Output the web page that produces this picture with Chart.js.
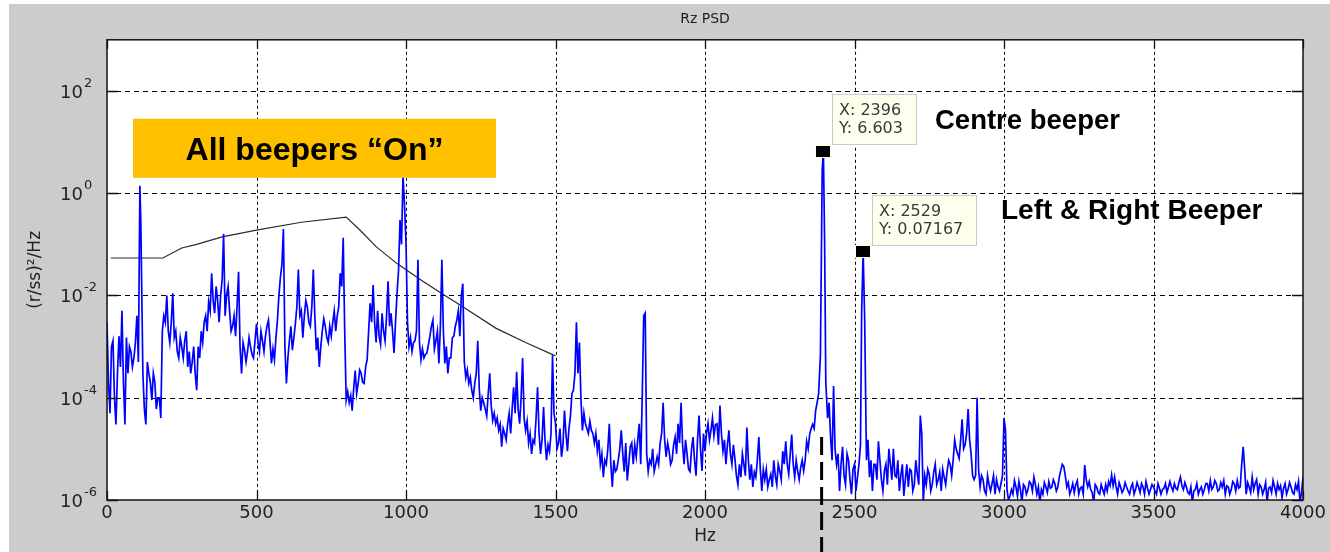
<!DOCTYPE html>
<html><head><meta charset="utf-8">
<script src="https://cdn.jsdelivr.net/npm/chart.js@4.4.1/dist/chart.umd.min.js"></script>
<style>html,body{margin:0;padding:0;background:#fff;overflow:hidden}#wrap{width:1330px;height:552px}</style>
</head><body><div id="wrap"><canvas id="c" width="1330" height="552"></canvas></div>
<script>
// ---------- data ----------
const psdHz = [
  0,10,20,30,40,50,60,70,80,90,100,110,113,120,130,140,150,160,170,180,190,
  200,210,220,230,240,250,260,270,280,290,300,310,320,330,340,350,360,370,380,390,
  400,410,420,430,440,450,460,470,480,490,500,510,520,530,540,550,560,570,580,590,
  600,610,620,630,640,650,660,670,680,690,700,710,720,730,740,750,760,770,780,790,
  800,810,820,830,840,850,860,870,880,890,900,910,920,930,940,950,960,970,980,990,995,
  1000,1010,1020,1030,1040,1050,1060,1070,1080,1090,1100,1110,1120,1130,1140,1150,1160,1170,1180,1190,
  1200,1210,1220,1230,1240,1250,1260,1270,1280,1290,1300,1310,1320,1330,1340,1350,1360,1370,1380,1390,
  1400,1410,1420,1430,1440,1450,1460,1470,1480,1490,1500,1510,1520,1530,1540,1550,1560,1570,1580,1590,
  1600,1610,1620,1630,1640,1650,1660,1670,1680,1690,1700,1710,1720,1730,1740,1750,1760,1770,1780,1790,
  1800,1810,1820,1830,1840,1850,1860,1870,1880,1890,1900,1910,1920,1930,1940,1950,1960,1970,1980,1990,
  2000,2010,2020,2030,2040,2050,2060,2070,2080,2090,2100,2110,2120,2130,2140,2150,2160,2170,2180,2190,
  2200,2210,2220,2230,2240,2250,2260,2270,2280,2290,2300,2310,2320,2330,2340,2350,2360,2370,2380,2386,2392,2396,
  2400,2404,2410,2420,2430,2440,2450,2460,2470,2480,2490,2500,2510,2520,2524,2529,2534,2540,2550,2560,2570,2580,2590,
  2600,2610,2620,2630,2640,2650,2660,2670,2680,2690,2700,2710,2720,2730,2740,2750,2760,2770,2780,2790,
  2800,2810,2820,2830,2840,2850,2860,2870,2880,2890,2900,2910,2920,2930,2940,2950,2960,2970,2980,2990,
  3000,3010,3020,3030,3040,3050,3060,3070,3080,3090,3100,3110,3120,3130,3140,3150,3160,3170,3180,3190,
  3200,3210,3220,3230,3240,3250,3260,3270,3280,3290,3300,3310,3320,3330,3340,3350,3360,3370,3380,3390,
  3400,3410,3420,3430,3440,3450,3460,3470,3480,3490,3500,3510,3520,3530,3540,3550,3560,3570,3580,3590,
  3600,3610,3620,3630,3640,3650,3660,3670,3680,3690,3700,3710,3720,3730,3740,3750,3760,3770,3780,3790,
  3800,3810,3820,3830,3840,3850,3860,3870,3880,3890,3900,3910,3920,3930,3940,3950,3960,3970,3980,3990,4000
];
const psdVal = [
  3e-3,5e-5,1.3e-3,3e-5,1.6e-3,5e-3,3e-5,3e-4,8e-4,6e-4,4e-3,1.4,0.3,3e-4,3e-5,3e-4,9e-5,2e-4,1e-4,4e-5,4e-3,
  1e-2,1.2e-3,1.1e-2,2e-3,6e-4,1e-3,1.3e-3,4e-4,3e-4,1e-3,1.4e-4,6e-4,1.2e-3,4e-3,7.5e-3,2.7e-2,4.5e-3,8e-3,1e-2,0.16,
  1e-2,5e-3,2.5e-3,1.6e-3,2.9e-2,3e-4,8.5e-4,8e-4,1e-3,6e-4,2.8e-3,8e-4,1.3e-3,1.6e-3,3.3e-3,4.7e-4,5.5e-4,3.3e-3,2.3e-2,0.2,
  1.9e-4,1.3e-3,8.5e-4,2.8e-3,3.2e-2,5e-3,4e-3,6e-3,2.5e-3,3.2e-2,8.5e-4,4e-4,2e-3,2.5e-3,1.2e-3,1.6e-3,5e-3,4e-3,2.7e-2,0.135,
  9e-5,8e-5,5.6e-5,3.4e-4,1.9e-4,3e-4,1.9e-4,5.5e-4,7e-3,1.6e-2,1.2e-3,1.6e-3,4.5e-3,1.3e-3,1.9e-2,4.5e-3,7.5e-4,1.1e-2,0.3,2.3,0.6,
  0.11,1e-3,8e-4,1.3e-3,5e-2,5.5e-4,6e-4,7.5e-4,1.6e-3,3.3e-3,1.3e-3,4.7e-4,5e-2,4.7e-4,3e-4,6e-4,1.6e-3,3.3e-3,1.6e-3,1.7e-2,
  2.5e-4,1.9e-4,1.4e-4,1.9e-4,1.3e-3,5.6e-5,8e-5,4.4e-5,3e-4,3.6e-5,3.1e-5,2.3e-5,1.1e-5,2e-5,3.1e-5,2e-5,1.6e-4,3.2e-4,3.1e-5,6e-4,
  2.3e-5,1.3e-5,8e-6,1.3e-5,1.6e-4,8e-6,6.6e-5,6e-6,9e-6,6.8e-4,3.1e-5,1.3e-5,7e-6,5.6e-5,9e-6,4.4e-5,1.4e-4,3e-3,1.2e-3,2.3e-5,
  3.1e-5,2e-5,2.3e-5,1.3e-5,9e-6,5e-6,2.8e-6,5e-6,3.1e-5,1.8e-6,3.6e-6,6e-6,2.3e-5,3.6e-6,2.4e-6,1.1e-5,5e-6,7e-6,3.1e-5,1e-4,
  4.5e-3,3.6e-6,5e-6,3.6e-6,7e-6,1.3e-5,8e-5,7e-6,9e-6,6e-6,1.7e-5,3.1e-5,8e-5,5e-6,8e-6,3.6e-6,1.7e-5,3e-6,4.5e-5,3.7e-6,
  9e-6,3.1e-5,2.3e-5,1.8e-5,3.1e-5,7e-5,9e-6,5e-6,2.3e-5,5e-6,6.5e-6,2e-6,2.8e-6,5e-6,2.6e-5,2.5e-6,1.8e-6,2.8e-6,1.7e-5,1.5e-6,
  2.5e-6,1.8e-6,3.2e-6,6e-6,2e-6,3.7e-6,9e-6,1.4e-5,3.2e-6,1.9e-5,2.8e-6,3.7e-6,4.3e-6,3.7e-6,1.4e-5,1.9e-5,3e-5,5.6e-5,1.2e-4,6.6e-4,2.9,6.603,
  0.12,2e-4,4e-5,1.7e-5,1.7e-4,5e-6,1.5e-6,1.1e-5,2e-6,6e-6,1.3e-6,5e-6,2.8e-6,1.2e-5,5e-3,0.07167,3.5e-3,6e-6,2.8e-6,1.5e-6,5e-6,1.4e-5,2.5e-6,
  3.7e-6,2e-6,5e-6,1e-5,2.8e-6,1.5e-6,5e-6,2.5e-6,1.8e-6,3.7e-6,2e-6,3.2e-6,4.5e-5,9e-7,2e-6,3.2e-6,2e-6,5e-6,2.5e-6,1.5e-6,
  2.8e-6,3.7e-6,5e-6,6e-6,1e-5,6.5e-6,3.8e-5,1.2e-5,6e-5,8e-6,2.5e-6,1e-4,1.8e-6,2.5e-6,1.3e-6,2e-6,2.1e-6,1.3e-6,1.8e-6,2.1e-6,
  4e-5,1.6e-6,1.2e-6,1.3e-6,1.8e-6,2.3e-6,9e-7,1.8e-6,1.6e-6,2.1e-6,2.8e-6,1.3e-6,9e-7,1.3e-6,1.8e-6,2.3e-6,1.8e-6,2.1e-6,1.8e-6,3.8e-6,
  4.5e-6,1.8e-6,1.3e-6,2.1e-6,2e-6,1.3e-6,1.8e-6,4.8e-6,1.8e-6,1.6e-6,9e-7,1.8e-6,1.3e-6,1.6e-6,2e-6,2.3e-6,3.1e-6,2.8e-6,1.3e-6,1.8e-6,
  1.6e-6,1.8e-6,1.3e-6,2.1e-6,1.6e-6,1.8e-6,2.1e-6,1.3e-6,1.7e-6,1.6e-6,1.8e-6,1.3e-6,1.7e-6,1.6e-6,2.1e-6,1.8e-6,1.8e-6,2.1e-6,1.6e-6,2.8e-6,
  1.6e-6,1.8e-6,1.3e-6,9e-7,1.6e-6,1.3e-6,1.8e-6,1.6e-6,2.1e-6,2.4e-6,1.8e-6,2.1e-6,1.6e-6,1.8e-6,1.3e-6,1.8e-6,1.6e-6,2.1e-6,2.4e-6,1.8e-6,
  1.1e-5,1.3e-6,1.8e-6,2.8e-6,2.1e-6,1.3e-6,1.8e-6,1.6e-6,9e-7,1.8e-6,2.4e-6,1.3e-6,1.6e-6,1.1e-6,2.1e-6,1.6e-6,1.8e-6,1.3e-6,1.6e-6,9e-7,2.8e-6
];
// in-between readings (the trace is denser than a 10 Hz grid)
const psdMidHz = [
  5,15,25,35,45,55,65,75,85,95,105,125,135,145,155,165,175,185,
  195,205,215,225,235,245,255,265,275,285,295,305,315,325,335,345,355,365,375,385,
  395,405,415,425,435,445,455,465,475,485,495,505,515,525,535,545,555,565,575,585,
  595,605,615,625,635,645,655,665,675,685,695,705,715,725,735,745,755,765,775,785,
  795,805,815,825,835,845,855,865,875,885,895,905,915,925,935,945,955,965,975,985,
  1005,1015,1025,1035,1045,1055,1065,1075,1085,1095,1105,1115,1125,1135,1145,1155,1165,1175,1185,1195,
  1205,1215,1225,1235,1245,1255,1265,1275,1285,1295,1305,1315,1325,1335,1345,1355,1365,1375,1385,1395,
  1405,1415,1425,1435,1445,1455,1465,1475,1485,1495,1505,1515,1525,1535,1545,1555,1565,1575,1585,1595,
  1605,1615,1625,1635,1645,1655,1665,1675,1685,1695,1705,1715,1725,1735,1745,1755,1765,1775,1785,1795,
  1805,1815,1825,1835,1845,1855,1865,1875,1885,1895,1905,1915,1925,1935,1945,1955,1965,1975,1985,1995,
  2005,2015,2025,2035,2045,2055,2065,2075,2085,2095,2105,2115,2125,2135,2145,2155,2165,2175,2185,2195,
  2205,2215,2225,2235,2245,2255,2265,2275,2285,2295,2305,2315,2325,2335,2345,2355,2365,2375,
  2415,2425,2435,2445,2455,2465,2475,2485,2495,2505,2515,2545,2555,2565,2575,2585,2595,
  2605,2615,2625,2635,2645,2655,2665,2675,2685,2695,2705,2715,2725,2735,2745,2755,2765,2775,2785,2795,
  2805,2815,2825,2835,2845,2855,2865,2875,2885,2895,2905,2915,2925,2935,2945,2955,2965,2975,2985,2995,
  3005,3015,3025,3035,3045,3055,3065,3075,3085,3095,3105,3115,3125,3135,3145,3155,3165,3175,3185,3195,
  3205,3215,3225,3235,3245,3255,3265,3275,3285,3295,3305,3315,3325,3335,3345,3355,3365,3375,3385,3395,
  3405,3415,3425,3435,3445,3455,3465,3475,3485,3495,3505,3515,3525,3535,3545,3555,3565,3575,3585,3595,
  3605,3615,3625,3635,3645,3655,3665,3675,3685,3695,3705,3715,3725,3735,3745,3755,3765,3775,3785,3795,
  3805,3815,3825,3835,3845,3855,3865,3875,3885,3895,3905,3915,3925,3935,3945,3955,3965,3975,3985,3995
];
const psdMidVal = [
  2e-4,1e-3,1e-4,3e-4,4e-4,2e-4,1.5e-3,1e-3,4e-4,1.2e-3,5e-4,6e-5,5e-4,2e-4,3e-4,6e-5,1e-4,2e-3,
  3e-3,2e-3,3e-3,1.5e-3,8e-4,1.5e-3,6e-4,2e-3,8e-4,5e-4,3e-4,1e-3,2e-3,3e-3,2e-3,5e-3,8e-3,1.5e-2,3e-3,2e-2,
  4e-3,1.5e-2,2e-3,4e-3,6e-3,1e-3,1.2e-3,5e-4,1.5e-3,7e-4,1.3e-3,1.2e-3,2e-3,8e-4,2.5e-3,1.3e-3,9e-4,1.5e-3,1e-2,4e-2,
  1e-3,6e-4,2.5e-3,1.5e-3,6e-3,4e-3,1.5e-3,8e-3,3e-3,6e-3,4e-3,1.5e-3,1e-3,3.5e-3,1.5e-3,2.5e-3,3e-3,2e-3,6e-3,1.5e-2,
  2e-3,1.3e-4,1.1e-4,1.5e-4,1.2e-4,3.5e-4,2e-4,4e-4,2e-3,3e-3,3e-3,5e-3,1.1e-3,2e-3,4e-3,2.5e-3,2e-3,3e-3,3e-2,0.1,
  3e-3,1.5e-3,1.2e-3,2e-3,1.2e-3,9e-4,7e-4,1.1e-3,2.5e-3,9e-4,2e-3,2.5e-3,2e-3,1e-3,6e-4,1.5e-3,2.5e-3,5e-3,1e-2,5e-4,
  3.5e-4,2.5e-4,1e-4,3e-4,1.5e-4,1e-4,6e-5,1.2e-4,7e-5,5e-5,4e-5,3e-5,2.5e-5,1.5e-5,5e-5,6e-5,5e-5,6e-5,1e-4,4e-5,
  3.5e-5,2e-5,1.5e-5,4e-5,2e-5,1.5e-5,1.5e-5,1.2e-5,2e-5,5e-5,1e-5,2.5e-5,1.2e-5,2e-5,2.5e-5,1.2e-4,3e-4,3e-4,1e-4,5e-5,
  2.5e-5,3.5e-5,2e-5,2e-5,1.5e-5,8e-6,6e-6,1e-5,5e-6,6e-6,4e-6,1e-5,8e-6,1.3e-5,5e-6,1.3e-5,1.2e-5,1.5e-5,5e-6,4e-3,
  8e-6,6e-6,1e-5,5e-6,5e-6,2e-5,1.5e-5,1.3e-5,5e-6,1.2e-5,8e-6,1.3e-5,1.2e-5,1.5e-5,4e-6,1e-5,6e-6,1.5e-5,1e-5,2e-5,
  2e-5,1.5e-5,4e-5,3e-5,1.2e-5,2e-5,1.5e-5,1.2e-5,8e-6,1.2e-5,3e-6,5e-6,8e-6,3e-6,6e-6,5e-6,3.5e-6,6e-6,4e-6,4e-6,
  4e-6,2.5e-6,1.8e-6,3e-6,5e-6,2.5e-6,5e-6,5e-6,8e-6,5e-6,6e-6,2.5e-6,6e-6,6e-6,1e-5,2.5e-5,2.5e-5,8e-5,
  8e-5,6e-6,1e-5,8e-6,5e-6,3e-6,8e-6,2.5e-6,4e-6,1.5e-6,5e-6,1.5e-5,6e-6,5e-6,2.5e-6,6e-6,1.5e-6,
  5e-6,1e-5,2.5e-6,3e-6,6e-6,3e-6,1.2e-6,5e-6,4e-6,1.5e-6,6e-6,2e-6,2e-5,3e-6,4e-6,1.5e-6,3.5e-6,2e-6,3.5e-6,4e-6,
  2e-6,6e-6,3e-6,1.5e-5,8e-6,1.5e-5,1e-5,2e-5,1.5e-5,3e-6,3e-6,4e-6,3e-6,1.5e-6,3e-6,1.5e-6,3e-6,2.5e-6,1.5e-6,3e-6,
  2.3e-5,1e-6,1.6e-6,2.4e-6,1.2e-6,1.6e-6,2e-6,1.3e-6,2.3e-6,1.5e-6,2e-6,1.8e-6,1.6e-6,2.2e-6,1.4e-6,1.7e-6,2.5e-6,1.5e-6,2.8e-6,5e-6,
  3e-6,2.2e-6,1.6e-6,1.4e-6,2.4e-6,1.7e-6,1.3e-6,2.5e-6,2.3e-6,1.4e-6,2e-6,1.4e-6,2e-6,1.3e-6,1.5e-6,1.9e-6,1.9e-6,1.8e-6,2.2e-6,1.4e-6,
  2.2e-6,1.5e-6,1.8e-6,1.3e-6,2.2e-6,1.4e-6,1.8e-6,2.3e-6,1.3e-6,2e-6,1.5e-6,2.1e-6,1.3e-6,1.7e-6,1.4e-6,2.3e-6,1.5e-6,1.7e-6,2.2e-6,1.9e-6,
  2.2e-6,1.4e-6,1.8e-6,1.5e-6,2.1e-6,1.6e-6,1.3e-6,2.1e-6,1.5e-6,1.6e-6,2.4e-6,1.5e-6,2.2e-6,2.4e-6,1.9e-6,1.3e-6,2.3e-6,1.5e-6,1.7e-6,5e-6,
  4e-6,2.2e-6,1.4e-6,1.6e-6,2.5e-6,2e-6,1.3e-6,2.2e-6,1.7e-6,1.4e-6,1.8e-6,2.1e-6,1.9e-6,1.7e-6,1.3e-6,2.2e-6,1.4e-6,2e-6,2.3e-6,1.4e-6
];
const limitHz  = [13, 187, 250, 300, 385, 500, 650, 800, 850, 900, 970, 1050, 1113, 1190, 1300, 1400, 1500];
const limitVal = [0.054, 0.054, 0.085, 0.1, 0.14, 0.19, 0.27, 0.34, 0.18, 0.09, 0.042, 0.02, 0.0115, 0.006, 0.0023, 0.0012, 0.00066];
const xTickVals = [0, 500, 1000, 1500, 2000, 2500, 3000, 3500, 4000];
const yTickVals = [1e-6, 1e-4, 1e-2, 1, 1e2];
const tipHz  = [2396, 2529];
const tipVal = [6.603, 0.07167];
const tipLabelsX = ['X: 2396', 'X: 2529'];
const tipLabelsY = ['Y: 6.603', 'Y: 0.07167'];
const markerLineHz = 2390;
const markerLineTopVal = 1.7e-5;
const titleText = 'Rz PSD';
const xTitle = 'Hz';
const yTitle = '(r/ss)\u00B2/Hz';
const boxLabel = 'All beepers \u201COn\u201D';
const noteCentre = 'Centre beeper';
const noteSides = 'Left & Right Beeper';

// ---------- assemble trace ----------
const psdPoints = psdHz.map((h, i) => ({x: h, y: psdVal[i]}))
  .concat(psdMidHz.map((h, i) => ({x: h, y: psdMidVal[i]})))
  .sort((a, b) => a.x - b.x);

// ---------- drawing ----------
const MF = '"DejaVu Sans", "Liberation Sans", Arial, sans-serif';
const AF = '"Liberation Sans", Arial, Helvetica, sans-serif';

const bgPlugin = {
  id: 'bg',
  beforeDraw(chart) {
    const {ctx, chartArea: a} = chart;
    ctx.save();
    ctx.fillStyle = '#ffffff';
    ctx.fillRect(0, 0, chart.width, chart.height);
    ctx.fillStyle = '#cccccc';
    ctx.fillRect(9, 4, chart.width - 9, chart.height - 4);
    ctx.fillStyle = '#ffffff';
    ctx.fillRect(a.left, a.top, a.right - a.left, a.bottom - a.top);
    ctx.restore();
  },
  beforeDatasetsDraw(chart) {
    const {ctx, chartArea: a, scales: {x, y}} = chart;
    ctx.save();
    ctx.strokeStyle = '#000000';
    ctx.lineWidth = 1;
    ctx.setLineDash([3, 3]);
    ctx.beginPath();
    xTickVals.forEach(v => {
      if (v <= x.min || v >= x.max) return;
      const px = Math.round(x.getPixelForValue(v)) + 0.5;
      ctx.moveTo(px, a.top); ctx.lineTo(px, a.bottom);
    });
    ctx.stroke();
    ctx.setLineDash([5, 4]);
    ctx.beginPath();
    yTickVals.forEach(v => {
      if (v <= y.min || v >= y.max) return;
      const py = Math.round(y.getPixelForValue(v)) + 0.5;
      ctx.moveTo(a.left, py); ctx.lineTo(a.right, py);
    });
    ctx.stroke();
    ctx.restore();
  }
};

function drawTip(ctx, px, py, l1, l2) {
  ctx.save();
  ctx.font = '16px ' + MF;
  const tw = Math.max(ctx.measureText(l1).width, ctx.measureText(l2).width);
  const bw = Math.round(tw + 21), bh = 51;
  const bx = Math.round(px + 9), by = Math.round(py - 6 - bh);
  ctx.fillStyle = '#ffffee';
  ctx.fillRect(bx, by, bw, bh);
  ctx.strokeStyle = '#c9c9c9';
  ctx.lineWidth = 1;
  ctx.strokeRect(bx + 0.5, by + 0.5, bw - 1, bh - 1);
  ctx.fillStyle = '#3a3a3a';
  ctx.textAlign = 'left';
  ctx.textBaseline = 'alphabetic';
  ctx.fillText(l1, bx + 7, by + 21);
  ctx.fillText(l2, bx + 7, by + 39);
  ctx.fillStyle = '#ffffe0';
  ctx.fillRect(Math.round(px - 8), Math.round(py - 6.5), 16, 13);
  ctx.fillStyle = '#000000';
  ctx.fillRect(Math.round(px - 7), Math.round(py - 5.5), 14, 11);
  ctx.restore();
}

const overlayPlugin = {
  id: 'overlay',
  afterDraw(chart) {
    const {ctx, chartArea: a, scales: {x, y}} = chart;
    ctx.save();
    ctx.strokeStyle = '#111111';
    ctx.lineWidth = 1.5;
    ctx.strokeRect(a.left, a.top, a.right - a.left, a.bottom - a.top);
    ctx.lineWidth = 1.3;
    ctx.beginPath();
    xTickVals.forEach(v => {
      const px = Math.round(x.getPixelForValue(v)) + 0.5;
      ctx.moveTo(px, a.bottom); ctx.lineTo(px, a.bottom - 9);
      ctx.moveTo(px, a.top); ctx.lineTo(px, a.top + 9);
    });
    yTickVals.forEach(v => {
      const py = Math.round(y.getPixelForValue(v)) + 0.5;
      ctx.moveTo(a.left, py); ctx.lineTo(a.left + 11, py);
      ctx.moveTo(a.right, py); ctx.lineTo(a.right - 11, py);
    });
    ctx.stroke();
    ctx.fillStyle = '#222222';
    ctx.textBaseline = 'alphabetic';
    yTickVals.forEach(v => {
      const py = y.getPixelForValue(v);
      const e = Math.round(Math.log10(v));
      ctx.font = '18px ' + MF;
      ctx.textAlign = 'right';
      ctx.fillText('10', a.left - 24, py + 7);
      ctx.font = '13px ' + MF;
      ctx.textAlign = 'left';
      ctx.fillText(String(e), a.left - 23, py - 4);
    });
    const bx = a.left + 26, by = a.top + 79, bw = 363, bh = 59;
    ctx.fillStyle = '#ffc000';
    ctx.fillRect(bx, by, bw, bh);
    ctx.fillStyle = '#000000';
    ctx.font = 'bold 32px ' + AF;
    ctx.textAlign = 'center';
    ctx.fillText(boxLabel, bx + bw / 2, by + 41);
    tipHz.forEach((h, i) => {
      drawTip(ctx, x.getPixelForValue(h), y.getPixelForValue(tipVal[i]), tipLabelsX[i], tipLabelsY[i]);
    });
    ctx.fillStyle = '#000000';
    ctx.font = 'bold 27.5px ' + AF;
    ctx.textAlign = 'left';
    ctx.fillText(noteCentre, a.left + 828, a.top + 89);
    ctx.font = 'bold 28px ' + AF;
    ctx.fillText(noteSides, a.left + 894, a.top + 179);
    const lx = x.getPixelForValue(markerLineHz);
    ctx.strokeStyle = '#000000';
    ctx.lineWidth = 3;
    ctx.setLineDash([18, 7]);
    ctx.beginPath();
    ctx.moveTo(lx, y.getPixelForValue(markerLineTopVal));
    ctx.lineTo(lx, chart.height);
    ctx.stroke();
    ctx.restore();
  }
};

new Chart(document.getElementById('c'), {
  type: 'line',
  data: {
    datasets: [
      {label: 'Limit', data: limitHz.map((h, i) => ({x: h, y: limitVal[i]})),
       borderColor: '#2a2a2a', borderWidth: 1.2, pointRadius: 0, tension: 0, order: 2},
      {label: 'Rz PSD', data: psdPoints,
       borderColor: '#0000ff', borderWidth: 1.7, pointRadius: 0, tension: 0, order: 1}
    ]
  },
  options: {
    responsive: false,
    animation: false,
    devicePixelRatio: 1,
    layout: {padding: {left: 0, right: 27, top: 0, bottom: 0}},
    plugins: {
      legend: {display: false},
      tooltip: {enabled: false},
      title: {display: true, fullSize: false, text: titleText, color: '#222222',
              font: {family: MF, size: 14, weight: 'normal'}, padding: {top: 11, bottom: 12}}
    },
    scales: {
      x: {
        type: 'linear', min: 0, max: 4000,
        afterBuildTicks: s => { s.ticks = xTickVals.map(v => ({value: v})); },
        ticks: {color: '#222222', font: {family: MF, size: 18}, padding: 3, maxRotation: 0, autoSkip: false,
                callback: v => String(v)},
        grid: {display: false, drawTicks: false},
        border: {display: false},
        title: {display: true, text: xTitle, color: '#222222', font: {family: MF, size: 17}, padding: {top: 0, bottom: 5}},
        afterFit: s => { s.height = 52; }
      },
      y: {
        type: 'logarithmic', min: 1e-6, max: 1e3,
        afterBuildTicks: s => { s.ticks = yTickVals.map(v => ({value: v})); },
        ticks: {display: false},
        grid: {display: false, drawTicks: false},
        border: {display: false},
        title: {display: true, text: yTitle, color: '#222222', font: {family: MF, size: 17}, padding: {top: 25, bottom: 0}},
        afterFit: s => { s.width = 107; }
      }
    }
  },
  plugins: [bgPlugin, overlayPlugin]
});
</script>
</body></html>
